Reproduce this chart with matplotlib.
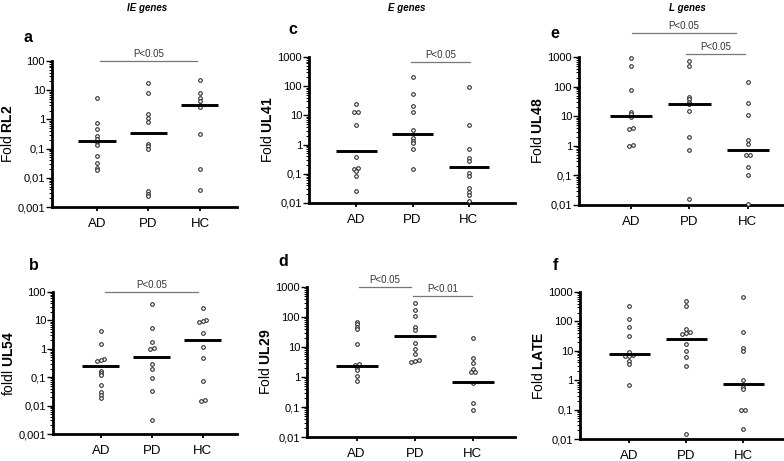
import numpy as np
import matplotlib
matplotlib.use('Agg')
import matplotlib.pyplot as plt
from matplotlib.ticker import LogLocator, FixedLocator, FixedFormatter, NullFormatter

plt.rcParams['font.family'] = ['Liberation Sans', 'DejaVu Sans']
plt.rcParams['mathtext.fontset'] = 'custom'
plt.rcParams['mathtext.rm'] = 'Liberation Sans'
plt.rcParams['mathtext.bf'] = 'Liberation Sans:bold'

GROUPS = ['AD', 'PD', 'HC']

# fold values (log scale)
RL2_AD = [5.5, 0.76, 0.47, 0.28, 0.22, 0.17, 0.135, 0.054, 0.033, 0.022, 0.018]
RL2_PD = [17, 8, 1.5, 1.1, 0.83, 0.145, 0.12, 0.096, 0.0034, 0.0028, 0.0023]
RL2_HC = [22, 8.2, 5.2, 4.2, 3.2, 2.6, 0.32, 0.02, 0.0037]
RL2_MED = [0.18, 0.34, 3.0]

UL54_AD = [4.1, 1.45, 0.44, 0.40, 0.36, 0.17, 0.14, 0.12, 0.054, 0.03, 0.024, 0.019]
UL54_PD = [37, 5.2, 1.8, 1.05, 0.97, 0.29, 0.195, 0.091, 0.033, 0.003]
UL54_HC = [28, 10, 9.3, 8.7, 3.6, 1.15, 0.47, 0.076, 0.016, 0.015]
UL54_MED = [0.245, 0.52, 2.0]

UL41_AD = [25, 13.4, 13.4, 4.7, 0.39, 0.156, 0.145, 0.126, 0.083, 0.026]
UL41_PD = [207, 54, 21, 12.7, 3.2, 1.7, 1.3, 1.1, 0.72, 0.145]
UL41_HC = [96, 4.7, 0.72, 0.34, 0.27, 0.11, 0.085, 0.033, 0.024, 0.019, 0.012]
UL41_MED = [0.62, 2.3, 0.17]

UL29_AD = [66, 57, 48, 40, 13, 2.65, 2.55, 1.95, 1.67, 1.1, 0.74]
UL29_PD = [300, 170, 107, 46, 38, 13.6, 8.4, 5.7, 3.7, 3.3, 3.1]
UL29_HC = [20, 4.2, 3.0, 1.8, 1.5, 1.45, 0.62, 0.14, 0.078]
UL29_MED = [2.4, 24, 0.67]

UL48_AD = [900, 500, 76, 14, 12, 9.3, 4.0, 3.8, 1.05, 1.0]
UL48_PD = [750, 480, 45, 37, 30, 25, 15.5, 1.95, 0.74, 0.016]
UL48_HC = [145, 27, 10.7, 1.6, 1.15, 0.5, 0.48, 0.19, 0.1, 0.011]
UL48_MED = [10.4, 25, 0.74]

LATE_AD = [340, 118, 66, 33, 9.3, 7.2, 6.9, 6.6, 4.5, 3.6, 0.69]
LATE_PD = [490, 325, 54, 42, 40, 38, 17, 10, 6.2, 3.0, 0.015]
LATE_HC = [690, 44, 12.8, 10, 1.02, 0.6, 0.52, 0.1, 0.097, 0.022]
LATE_MED = [7.8, 26, 0.76]

W, H = 784, 461


def box(l, r, t, b):
    return [l / W, 1 - b / H, (r - l) / W, (b - t) / H]


def swarm(vals, dx=0.07, thr=0.06):
    """GraphPad-like: points that nearly coincide are put side by side."""
    lv = np.log10(vals)
    order = np.argsort(lv)
    off = np.zeros(len(vals))
    groups, cur = [], [order[0]]
    for k in order[1:]:
        if lv[k] - lv[cur[-1]] < thr:
            cur.append(k)
        else:
            groups.append(cur); cur = [k]
    groups.append(cur)
    for g in groups:
        n = len(g)
        for j, k in enumerate(g):
            off[k] = (j - (n - 1) / 2) * dx
    return off


def panel(ax, vals, med, ymin, xlim, ylabel):
    for i, v in enumerate(vals):
        x = i + 1 + swarm(v)
        ax.plot(x, v, 'o', ms=2.6, mfc='white', mec='#222', mew=0.75,
                clip_on=False, zorder=3)
        ax.plot([i + 1 - 0.36, i + 1 + 0.36], [med[i]] * 2, color='black',
                lw=2.1, solid_capstyle='butt', zorder=4)
    ax.set_yscale('log')
    ax.set_ylim(ymin, ymin * 1e5)
    ax.set_xlim(*xlim)
    major = [ymin * 10 ** k for k in range(6)]
    labs = [f'{m:g}'.replace('.', ',') for m in major]
    ax.yaxis.set_major_locator(FixedLocator(major))
    ax.yaxis.set_major_formatter(FixedFormatter(labs))
    ax.yaxis.set_minor_locator(LogLocator(base=10, subs=np.arange(2, 10)))
    ax.yaxis.set_minor_formatter(NullFormatter())
    ax.set_xticks([1, 2, 3]); ax.set_xticklabels(GROUPS)
    for s in ['top', 'right']:
        ax.spines[s].set_visible(False)
    for s in ['left', 'bottom']:
        ax.spines[s].set_linewidth(2.0)
    ax.tick_params(axis='y', which='major', length=4, width=1.0, labelsize=8, pad=1)
    ax.tick_params(axis='y', which='minor', length=2, width=0.7)
    ax.tick_params(axis='x', length=3, width=1.3, labelsize=9.5, pad=5)
    ax.set_ylabel(ylabel, fontsize=10, labelpad=2)


def sig(ax, x0, x1, yf, text):
    tr = ax.get_xaxis_transform()
    ax.plot([x0, x1], [yf, yf], color='#777', lw=0.9, transform=tr, clip_on=False)
    ax.text((x0 + x1) / 2, yf + 0.012, text, transform=tr, ha='center', va='bottom',
            fontsize=7, color='#333')


fig = plt.figure(figsize=(W / 100, H / 100), dpi=100)

ax_a = fig.add_axes(box(52, 237, 61, 207))
panel(ax_a, [RL2_AD, RL2_PD, RL2_HC], RL2_MED, 0.001, (0.126, 3.72), 'Fold $\\mathbf{RL2}$')
sig(ax_a, 1.06, 2.94, 1.0, 'P<0.05')

ax_b = fig.add_axes(box(53, 237, 292, 434))
panel(ax_b, [UL54_AD, UL54_PD, UL54_HC], UL54_MED, 0.001, (0.065, 3.67), 'foldl $\\mathbf{UL54}$')
sig(ax_b, 1.08, 2.91, 1.0, 'P<0.05')

ax_c = fig.add_axes(box(309, 515, 57, 203))
panel(ax_c, [UL41_AD, UL41_PD, UL41_HC], UL41_MED, 0.01, (0.16, 3.82), 'Fold $\\mathbf{UL41}$')
sig(ax_c, 1.98, 3.02, 0.966, 'P<0.05')

ax_d = fig.add_axes(box(307, 515, 287, 437))
panel(ax_d, [UL29_AD, UL29_PD, UL29_HC], UL29_MED, 0.01, (0.143, 3.73), 'Fold $\\mathbf{UL29}$')
sig(ax_d, 1.04, 1.94, 1.0, 'P<0.05')
sig(ax_d, 1.97, 2.99, 0.94, 'P<0.01')

ax_e = fig.add_axes(box(579, 783, 57, 205))
panel(ax_e, [UL48_AD, UL48_PD, UL48_HC], UL48_MED, 0.01, (0.11, 3.6), 'Fold $\\mathbf{UL48}$')
sig(ax_e, 1.02, 2.79, 1.162, 'P<0.05')
sig(ax_e, 1.94, 2.95, 1.02, 'P<0.05')

ax_f = fig.add_axes(box(580, 783, 292, 439))
panel(ax_f, [LATE_AD, LATE_PD, LATE_HC], LATE_MED, 0.01, (0.14, 3.7), 'Fold $\\mathbf{LATE}$')

# column headers and panel letters
for txt, x in [('IE genes', 147), ('E genes', 407), ('L genes', 687)]:
    fig.text(x / W, 1 - 8 / H, txt, ha='center', va='center', fontsize=7,
             fontweight='bold', fontstyle='italic')
for let, x, y in [('a', 28, 37), ('b', 34, 266), ('c', 293, 30),
                  ('d', 283, 261), ('e', 555, 33), ('f', 555, 266)]:
    fig.text(x / W, 1 - y / H, let, ha='center', va='center', fontsize=11.5,
             fontweight='bold')

fig.savefig('out.png', dpi=100)
